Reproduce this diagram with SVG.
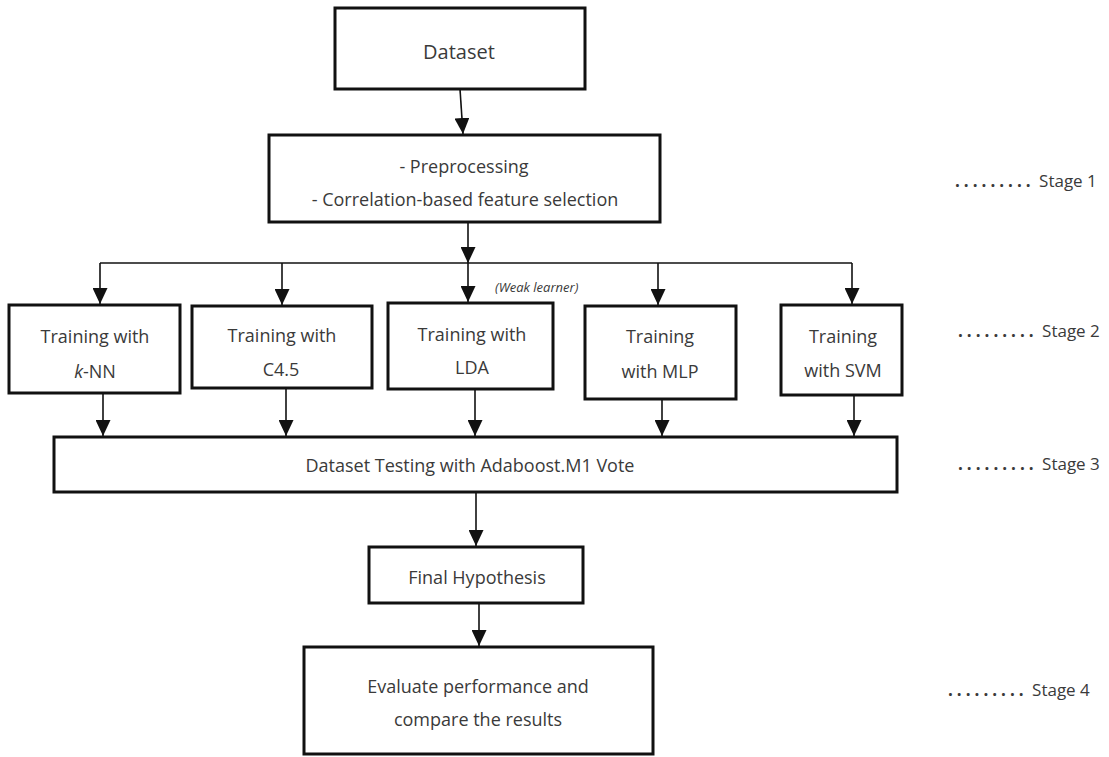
<svg xmlns="http://www.w3.org/2000/svg" width="1109" height="757" viewBox="0 0 1109 757">
  <style>
    .box { fill: #ffffff; stroke: #111111; stroke-width: 3; }
    .wire { fill: none; stroke: #111111; stroke-width: 1.6; }
    .lbl { font-family: "Open Sans", "Noto Sans", sans-serif; font-size: 18px; fill: #3a3a3a; text-anchor: middle; }
    .big { font-size: 20px; }
    .note { font-family: "Open Sans", "Noto Sans", sans-serif; font-size: 13px; font-style: italic; fill: #3a3a3a; }
    .stage { font-family: "Open Sans", "Noto Sans", sans-serif; font-size: 17px; fill: #3a3a3a; }
    .dots { letter-spacing: 4px; font-weight: bold; }
  </style>
  <defs>
    <marker id="arrow" viewBox="0 0 16 15" refX="16" refY="7.5" markerWidth="16" markerHeight="15" markerUnits="userSpaceOnUse" orient="auto">
      <path d="M0,0 L16,7.5 L0,15 z" fill="#111111"/>
    </marker>
  </defs>
  <rect width="1109" height="757" fill="#ffffff"/>

  <!-- connectors -->
  <g id="connectors">
    <line class="wire" x1="460" y1="89" x2="463" y2="134" marker-end="url(#arrow)"/>
    <line class="wire" x1="468" y1="222" x2="468" y2="263" marker-end="url(#arrow)"/>
    <line class="wire" x1="100" y1="263" x2="852" y2="263"/>
    <line class="wire" x1="100" y1="263" x2="100" y2="304" marker-end="url(#arrow)"/>
    <line class="wire" x1="282" y1="263" x2="282" y2="305" marker-end="url(#arrow)"/>
    <line class="wire" x1="468" y1="263" x2="468" y2="302" marker-end="url(#arrow)"/>
    <line class="wire" x1="658" y1="263" x2="658" y2="305" marker-end="url(#arrow)"/>
    <line class="wire" x1="852" y1="263" x2="852" y2="304" marker-end="url(#arrow)"/>
    <line class="wire" x1="103" y1="393" x2="103" y2="436" marker-end="url(#arrow)"/>
    <line class="wire" x1="286" y1="388" x2="286" y2="436" marker-end="url(#arrow)"/>
    <line class="wire" x1="475" y1="389" x2="475" y2="436" marker-end="url(#arrow)"/>
    <line class="wire" x1="662" y1="399" x2="662" y2="436" marker-end="url(#arrow)"/>
    <line class="wire" x1="854" y1="395" x2="854" y2="436" marker-end="url(#arrow)"/>
    <line class="wire" x1="476" y1="492" x2="476" y2="546" marker-end="url(#arrow)"/>
    <line class="wire" x1="479" y1="603" x2="479" y2="646" marker-end="url(#arrow)"/>
  </g>

  <g id="dataset">
    <rect class="box" x="335" y="8" width="250" height="81"/>
    <text class="lbl big" x="459" y="59">Dataset</text>
  </g>

  <g id="preprocessing">
    <rect class="box" x="269" y="135" width="391" height="87"/>
    <text class="lbl" x="464" y="173">- Preprocessing</text>
    <text class="lbl" x="465" y="206">- Correlation-based feature selection</text>
  </g>

  <g id="weak-learner-note">
    <text class="note" x="495" y="292">(Weak learner)</text>
  </g>

  <g id="train-knn">
    <rect class="box" x="9" y="305" width="171" height="88"/>
    <text class="lbl" x="95" y="343">Training with</text>
    <text class="lbl" x="95" y="378"><tspan font-style="italic">k</tspan>-NN</text>
  </g>

  <g id="train-c45">
    <rect class="box" x="192" y="306" width="180" height="82"/>
    <text class="lbl" x="282" y="342">Training with</text>
    <text class="lbl" x="281" y="376">C4.5</text>
  </g>

  <g id="train-lda">
    <rect class="box" x="388" y="303" width="165" height="86"/>
    <text class="lbl" x="472" y="341">Training with</text>
    <text class="lbl" x="472" y="374">LDA</text>
  </g>

  <g id="train-mlp">
    <rect class="box" x="585" y="306" width="151" height="93"/>
    <text class="lbl" x="660" y="343">Training</text>
    <text class="lbl" x="660" y="378">with MLP</text>
  </g>

  <g id="train-svm">
    <rect class="box" x="781" y="305" width="121" height="90"/>
    <text class="lbl" x="843" y="343">Training</text>
    <text class="lbl" x="843" y="377">with SVM</text>
  </g>

  <g id="adaboost-vote">
    <rect class="box" x="54" y="437" width="843" height="55"/>
    <text class="lbl" x="470" y="472">Dataset Testing with Adaboost.M1 Vote</text>
  </g>

  <g id="final-hypothesis">
    <rect class="box" x="369" y="547" width="214" height="56"/>
    <text class="lbl" x="477" y="584">Final Hypothesis</text>
  </g>

  <g id="evaluate">
    <rect class="box" x="304" y="647" width="349" height="107"/>
    <text class="lbl" x="478" y="693">Evaluate performance and</text>
    <text class="lbl" x="478" y="726">compare the results</text>
  </g>

  <g id="stage-labels">
    <text class="stage" x="955" y="187"><tspan class="dots">.........</tspan> Stage 1</text>
    <text class="stage" x="958" y="337"><tspan class="dots">.........</tspan> Stage 2</text>
    <text class="stage" x="958" y="470"><tspan class="dots">.........</tspan> Stage 3</text>
    <text class="stage" x="948" y="696"><tspan class="dots">.........</tspan> Stage 4</text>
  </g>
</svg>
